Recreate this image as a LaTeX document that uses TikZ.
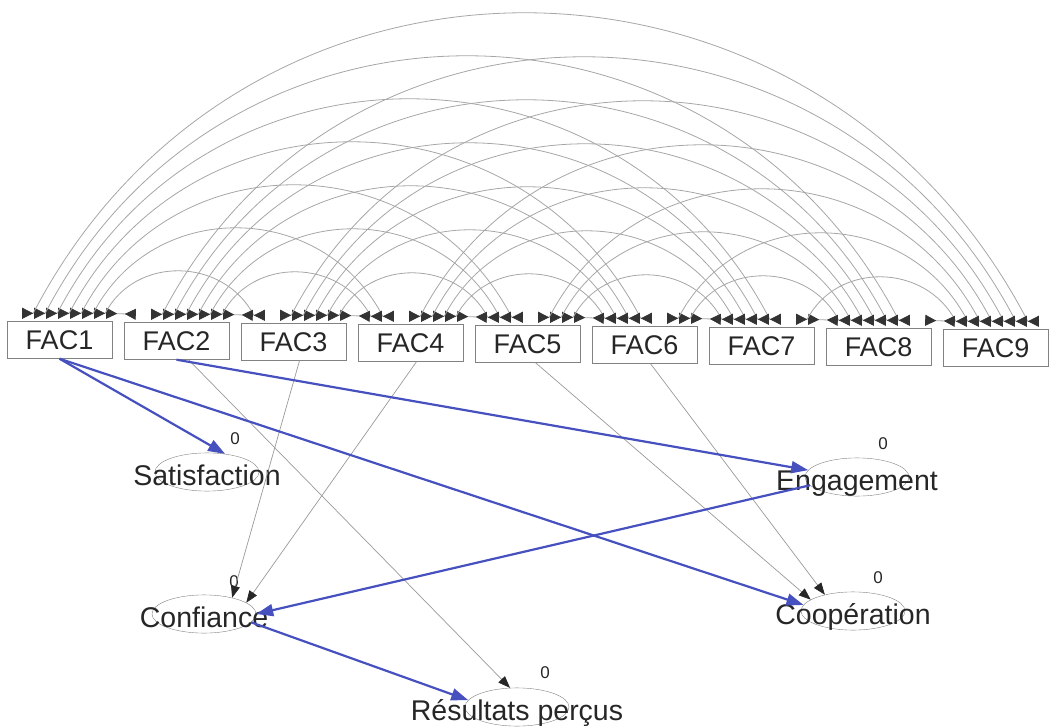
\documentclass[tikz,border=0pt]{standalone}
\usepackage{fontspec}
\setmainfont{Liberation Sans}
\definecolor{amosblue}{RGB}{70,80,190}
\definecolor{amosgray}{RGB}{130,130,130}
\usetikzlibrary{arrows.meta,positioning,shapes.geometric,calc}

\begin{document}
\begin{tikzpicture}[x=1pt, y=-1pt,
    facbox/.style={draw=amosgray, minimum width=105pt, minimum height=37pt,
                inner sep=0pt, font=\fontsize{27}{30}\selectfont, text=black!85},
    latent/.style={ellipse, draw=amosgray, minimum width=104pt, minimum height=38pt,
                inner sep=0pt, text height=27pt, text depth=0pt,
                font=\fontsize{28.5}{32}\selectfont, text=black!85},
    zero/.style={font=\fontsize{17}{20}\selectfont, text=black!85, inner sep=1pt},
    covar/.style={draw=gray!70, line width=0.8pt,
                {Triangle[reversed,length=11pt,width=11pt,color=black!80]}-{Triangle[reversed,length=11pt,width=11pt,color=black!80]}},
    regblue/.style={draw=amosblue, line width=2.2pt, -{Triangle[length=17pt,width=12pt]}},
    reggray/.style={draw=gray!80, line width=0.7pt, -{Triangle[length=12pt,width=9pt,color=black!85]}}
  ]
    \useasboundingbox (0,0) rectangle (1051,727);

    % observed variables
    \foreach \k in {1,...,9}
      \node[facbox] (f\k) at ({59.5+117*(\k-1)}, {340+(\k-1)}) {FAC\k};

    % covariances between all pairs
    \foreach \i in {1,...,8}{
      \pgfmathtruncatemacro{\nxt}{\i+1}
      \foreach \j in {\nxt,...,9}{
        \pgfmathtruncatemacro{\dist}{\j-\i}
        \pgfmathsetmacro{\sofs}{6+12*(\dist-1)}
        \pgfmathsetmacro{\eofs}{12+12*(\dist-1)}
        \pgfmathsetmacro{\cy}{58*(\dist-1)}
        \pgfmathsetmacro{\cx}{0.52*\cy}
        \coordinate (s) at ($(f\i.north east)+(-\sofs,-8)$);
        \coordinate (e) at ($(f\j.north west)+(\eofs,-8)$);
        \ifnum\dist=1
          \draw[covar] (s) -- (e);
        \else
          \draw[covar] (s) -- ++(11,0) .. controls +(\cx,-\cy) and +(-\cx,-\cy) .. ($(e)+(-11,0)$) -- (e);
        \fi
      }
    }

    % latent variables
    \node[latent] (sat)  at (207,472) {\makebox[0pt]{Satisfaction}};
    \node[latent] (eng)  at (857,477) {\makebox[0pt]{Engagement}};
    \node[latent] (conf) at (204,614) {\makebox[0pt]{Confiance}};
    \node[latent] (coop) at (853,611) {\makebox[0pt]{Coopération}};
    \node[latent] (res)  at (517,707) {\makebox[0pt]{Résultats perçus}};
    \node[zero] (sat0)  at ($(sat)+(28,-33)$)  {0};
    \node[zero] (eng0)  at ($(eng)+(26,-33)$)  {0};
    \node[zero] (conf0) at ($(conf)+(30,-32)$) {0};
    \node[zero] (coop0) at ($(coop)+(25,-33)$) {0};
    \node[zero] (res0)  at ($(res)+(28,-34)$)  {0};

    % paths
    \draw[reggray] ([xshift=12pt]f2.south) -- (res.110);
    \draw[reggray] ([xshift=6pt]f3.south) -- (conf.30);
    \draw[reggray] ([xshift=6pt]f4.south) -- (conf.15);
    \draw[reggray] ([xshift=8pt]f5.south) -- (coop.165);
    \draw[reggray] ([xshift=6pt]f6.south) -- (coop.150);
    \draw[regblue] (f1.south) -- (sat.45);
    \draw[regblue] (f1.south) -- (coop.173);
    \draw[regblue] (f2.south) -- (eng.172);
    \draw[regblue] (eng.190) -- (conf.east);
    \draw[regblue] (conf.350) -- (res.172);
  \end{tikzpicture}
\end{document}
